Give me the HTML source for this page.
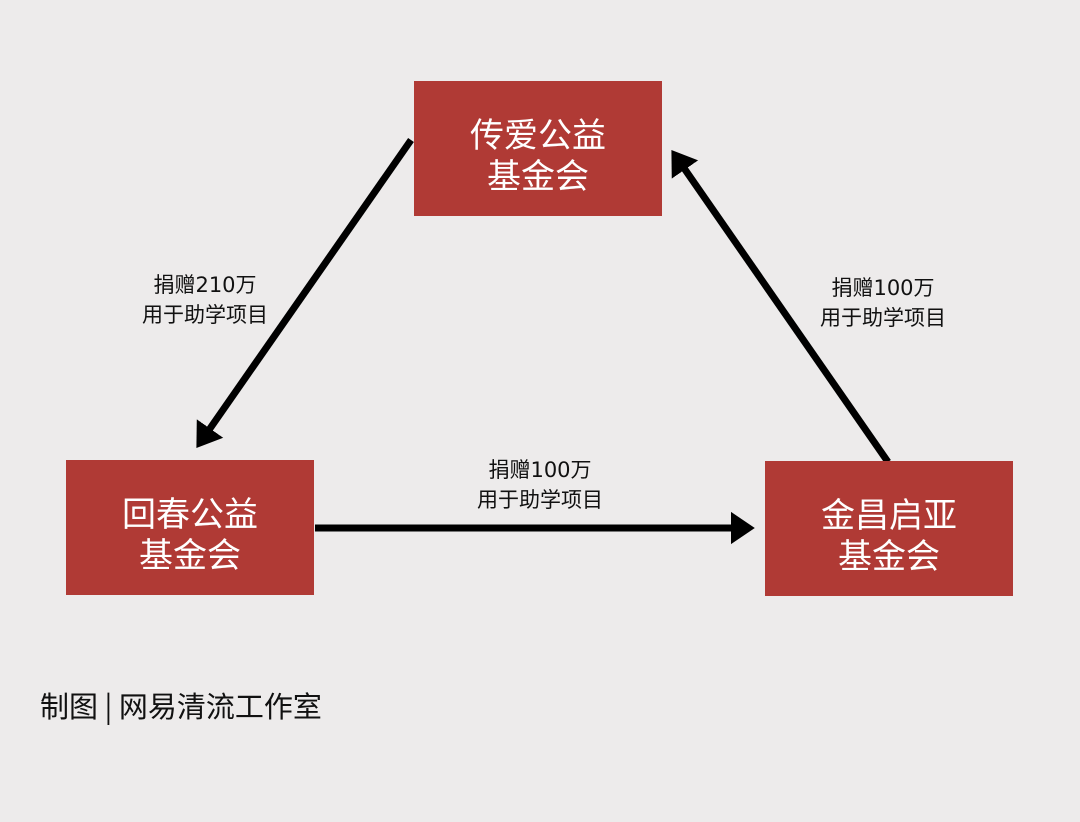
<!DOCTYPE html>
<html><head><meta charset="utf-8"><style>
body{margin:0;width:1080px;height:822px;background:#edebeb;position:relative;overflow:hidden;font-family:"DejaVu Sans","Noto Sans CJK SC",sans-serif}
.b{position:absolute;width:248px;height:135px;background:#b03a35;color:#fff;font-size:34px;line-height:41px;display:flex;align-items:center;justify-content:center;text-align:center;padding-top:8px;box-sizing:border-box;font-family:"Noto Sans CJK SC",sans-serif}
.l{position:absolute;font-size:21px;line-height:30px;color:#111;text-align:center;width:240px}
</style></head><body>
<svg width="1080" height="822" style="position:absolute;left:0;top:0">
<defs><marker id="a" markerWidth="5" markerHeight="5" refX="2" refY="2.5" orient="auto" markerUnits="strokeWidth"><path d="M0,0.2 L3.4,2.5 L0,4.8 z" fill="#000"/></marker></defs>
<g stroke="#000" stroke-width="7">
<line x1="411" y1="140" x2="202" y2="440" marker-end="url(#a)"/>
<line x1="888" y1="462" x2="677" y2="158" marker-end="url(#a)"/>
<line x1="315" y1="528" x2="745" y2="528" marker-end="url(#a)"/>
</g></svg>
<div class="b" style="left:414px;top:81px">传爱公益<br>基金会</div>
<div class="b" style="left:66px;top:460px">回春公益<br>基金会</div>
<div class="b" style="left:765px;top:461px">金昌启亚<br>基金会</div>
<div class="l" style="left:85px;top:270px">捐赠210万<br>用于助学项目</div>
<div class="l" style="left:763px;top:273px">捐赠100万<br>用于助学项目</div>
<div class="l" style="left:420px;top:455px">捐赠100万<br>用于助学项目</div>
<div style="position:absolute;left:40px;top:684px;font-size:29px;color:#111;font-family:'Noto Sans CJK SC',sans-serif">制图 | 网易清流工作室</div>
</body></html>
